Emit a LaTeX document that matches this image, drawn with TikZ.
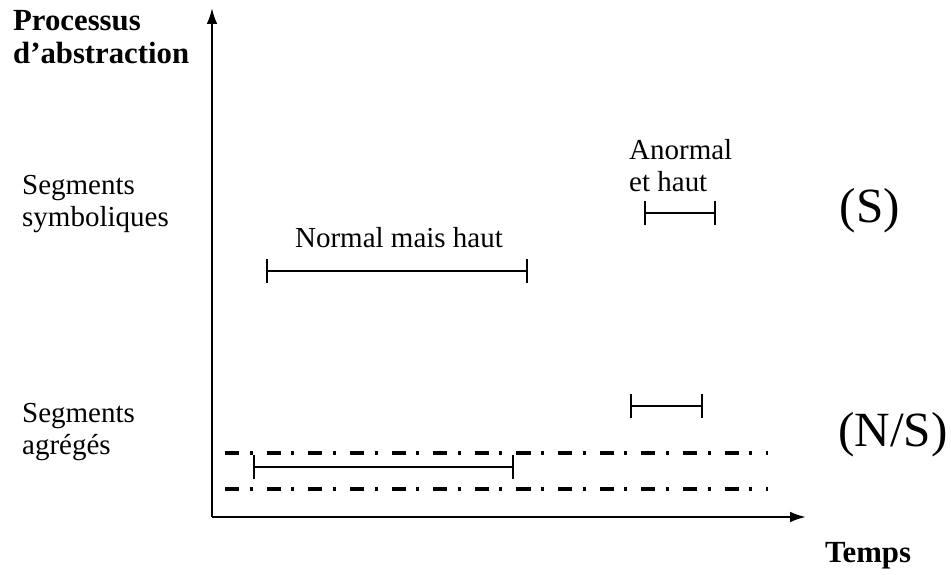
\documentclass[tikz,border=0pt]{standalone}
\usepackage{fontspec}
\setmainfont{Liberation Serif}
\usepackage{tikz}
\usetikzlibrary{arrows.meta, positioning}

\begin{document}
\begin{tikzpicture}[x=0.02cm,y=-0.02cm]
  \tikzstyle{label}=[font=\fontsize{16.5}{18.5}\selectfont, align=left]
  \tikzstyle{title}=[font=\fontsize{17.5}{20}\selectfont\bfseries, align=left]
  \tikzstyle{level}=[font=\fontsize{28}{30}\selectfont]
  \tikzstyle{axis}=[line width=1.2pt, -{Latex[length=9pt,width=6pt]}]
  \tikzstyle{seg}=[line width=0.9pt, {Bar[width=14pt,line width=1.3pt]}-{Bar[width=14pt,line width=1.3pt]}]
  \tikzstyle{band}=[line width=1.9pt, dash pattern=on 8pt off 6pt on 1.7pt off 8pt]

  \useasboundingbox (0,0) rectangle (951,575);

  % axes
  \coordinate (o)     at (212,517);
  \coordinate (y_top) at (212,8);
  \coordinate (x_end) at (806,517);
  \draw[axis] (o) -- (y_top);
  \draw[axis] (o) -- (x_end);

  \node[title, anchor=north west] (t_proc)  at (7,4)    {Processus\\[-1pt]d'abstraction};
  \node[title, anchor=center]     (t_temps) at (868,556) {Temps};

  % levels
  \node[label, anchor=west] (l_sym) at (16,204) {Segments\\symboliques};
  \node[label, anchor=west] (l_agr) at (16,432) {Segments\\agrégés};
  \node[level] (s_lvl)  at (870,211) {(S)};
  \node[level] (ns_lvl) at (893,435) {(N/S)};

  % symbolic segments
  \coordinate (s1_a) at (266,271);
  \coordinate (s1_b) at (528,271);
  \coordinate (s2_a) at (644,213);
  \coordinate (s2_b) at (716,213);
  \draw[seg] (s1_a) -- (s1_b);
  \draw[seg] (s2_a) -- (s2_b);
  \node[label] (n_normal)  at (399,238) {Normal mais haut};
  \node[label, anchor=south west] (n_anormal) at (623,198) {Anormal\\et haut};

  % aggregated segments
  \coordinate (b_top_a) at (225,453);
  \coordinate (b_top_b) at (768,453);
  \coordinate (b_bot_a) at (225,489);
  \coordinate (b_bot_b) at (768,489);
  \draw[band] (b_top_a) -- (b_top_b);
  \draw[band] (b_bot_a) -- (b_bot_b);

  \coordinate (a1_a) at (253,467);
  \coordinate (a1_b) at (514,467);
  \coordinate (a2_a) at (630,406);
  \coordinate (a2_b) at (703,406);
  \draw[seg] (a1_a) -- (a1_b);
  \draw[seg] (a2_a) -- (a2_b);
\end{tikzpicture}
\end{document}
